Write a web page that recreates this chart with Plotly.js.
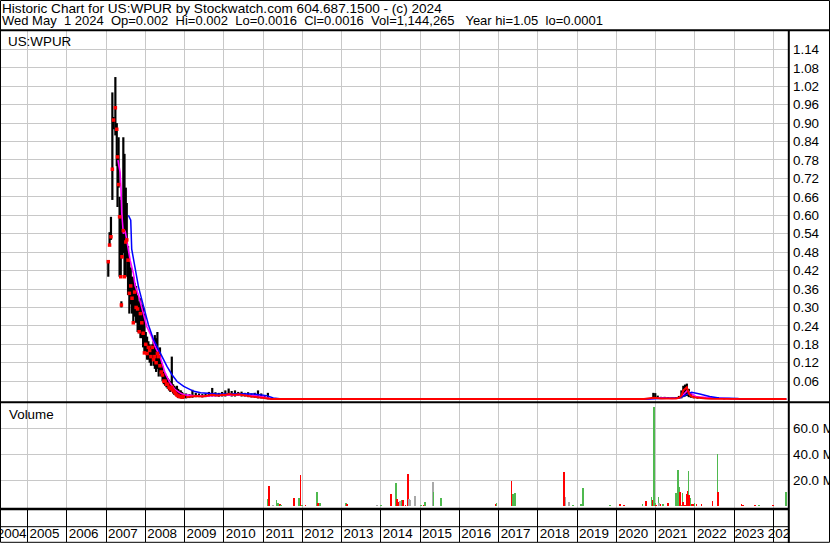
<!DOCTYPE html>
<html><head><meta charset="utf-8">
<script src="https://cdn.plot.ly/plotly-3.0.1.min.js"></script>
<style>html,body{margin:0;padding:0;background:#fff;overflow:hidden}#chart{width:830px;height:543px}</style>
</head><body><div id="chart"></div>
<script>
// ---------------- texts ----------------
const titleLine1 = "Historic Chart for US:WPUR by Stockwatch.com 604.687.1500 - (c) 2024";
const titleLine2 = "Wed May  1 2024  Op=0.002  Hi=0.002  Lo=0.0016  Cl=0.0016  Vol=1,144,265   Year hi=1.05  lo=0.0001";
const symbolLabel = "US:WPUR";
const volumeLabel = "Volume";

// ---------------- price bars (date, high, low, close) ----------------
const priceDates = [
 '2007-01-22','2007-02-03','2007-02-16','2007-03-01','2007-03-12','2007-03-29','2007-04-11','2007-04-18','2007-04-28','2007-05-07',
 '2007-05-18','2007-05-24','2007-05-30','2007-06-11','2007-06-22','2007-07-04','2007-07-13','2007-07-25','2007-08-06','2007-08-19',
 '2007-08-31','2007-09-12','2007-09-24','2007-10-08','2007-10-22','2007-11-05','2007-11-17','2007-11-30','2007-12-12','2007-12-24',
 '2008-01-06','2008-01-18','2008-01-30','2008-02-11','2008-02-23','2008-03-06','2008-03-18','2008-03-30','2008-04-11','2008-04-23',
 '2008-05-05','2008-05-17','2008-05-29','2008-06-10','2008-06-22','2008-07-04','2008-07-16','2008-07-28','2008-08-09','2008-08-21',
 '2008-09-04','2008-09-16','2008-09-28','2008-10-10','2008-10-22','2008-11-03','2008-11-15','2008-11-27','2008-12-09','2008-12-21',
 '2009-01-15','2009-02-15','2009-03-15','2009-04-15','2009-05-15','2009-06-15','2009-07-15','2009-08-15','2009-09-15','2009-10-15','2009-11-15','2009-12-15',
 '2010-01-15','2010-02-15','2010-03-15','2010-04-15','2010-05-15','2010-06-15','2010-07-15','2010-08-15','2010-09-15','2010-10-15','2010-11-15','2010-12-15',
 '2011-01-15','2011-02-15','2011-03-15',
 '2011-06-15','2011-10-15','2012-04-15','2012-10-15','2013-04-15','2013-10-15','2014-04-15','2014-10-15','2015-04-15','2015-10-15',
 '2016-04-15','2016-10-15','2017-04-15','2017-10-15','2018-04-15','2018-10-15','2019-04-15','2019-10-15','2020-04-15','2020-09-15',
 '2020-12-10','2020-12-28','2021-01-20','2021-02-20','2021-03-25','2021-04-25','2021-06-01','2021-07-10','2021-08-05','2021-08-28',
 '2021-09-15','2021-10-01','2021-10-18','2021-11-05','2021-11-25','2021-12-20','2022-01-25','2022-03-01','2022-04-15','2022-06-01',
 '2022-08-01','2022-10-01','2022-12-01','2023-03-01','2023-06-01','2023-09-01','2023-12-01','2024-03-01','2024-05-01'
];
const priceHigh = [
 0.449,0.545,0.595,1.000,0.920,1.050,0.900,0.800,0.854,0.660,
 0.650,0.320,0.590,0.854,0.800,0.690,0.640,0.500,0.450,0.430,
 0.400,0.400,0.380,0.370,0.340,0.320,0.330,0.310,0.300,0.280,
 0.220,0.205,0.190,0.180,0.170,0.180,0.190,0.210,0.200,0.220,
 0.160,0.170,0.120,0.110,0.090,0.085,0.076,0.070,0.065,0.060,
 0.140,0.050,0.045,0.040,0.045,0.035,0.030,0.030,0.025,0.020,
 0.020,0.018,0.032,0.022,0.020,0.018,0.020,0.025,0.038,0.024,0.022,0.025,
 0.030,0.036,0.028,0.030,0.025,0.026,0.022,0.024,0.020,0.022,0.030,0.020,
 0.012,0.022,0.005,
 0.004,0.003,0.003,0.003,0.002,0.003,0.004,0.003,0.003,0.002,
 0.002,0.002,0.003,0.002,0.002,0.003,0.002,0.002,0.002,0.003,
 0.022,0.021,0.013,0.009,0.009,0.008,0.006,0.008,0.012,0.030,
 0.045,0.049,0.052,0.035,0.020,0.013,0.010,0.008,0.007,0.006,
 0.008,0.005,0.004,0.003,0.003,0.003,0.003,0.003,0.002
];
const priceLow = [
 0.400,0.500,0.520,0.650,0.880,0.860,0.760,0.627,0.690,0.400,
 0.400,0.300,0.460,0.477,0.400,0.400,0.460,0.340,0.280,0.310,
 0.280,0.249,0.270,0.250,0.220,0.216,0.200,0.200,0.170,0.150,
 0.150,0.130,0.130,0.120,0.110,0.130,0.110,0.100,0.090,0.100,
 0.075,0.090,0.075,0.060,0.050,0.045,0.040,0.035,0.030,0.025,
 0.030,0.020,0.015,0.013,0.010,0.005,0.005,0.004,0.003,0.003,
 0.004,0.005,0.006,0.008,0.008,0.007,0.008,0.010,0.010,0.010,0.009,0.010,
 0.010,0.012,0.010,0.010,0.012,0.010,0.010,0.008,0.007,0.006,0.004,0.004,
 0.002,0.001,0.001,
 0.001,0.001,0.001,0.001,0.001,0.001,0.001,0.001,0.001,0.001,
 0.001,0.001,0.001,0.001,0.001,0.001,0.001,0.001,0.001,0.001,
 0.002,0.003,0.003,0.003,0.002,0.002,0.002,0.002,0.003,0.004,
 0.008,0.010,0.012,0.008,0.006,0.004,0.003,0.003,0.002,0.002,
 0.002,0.001,0.001,0.001,0.001,0.001,0.001,0.001,0.0016
];
const priceClose = [
 0.449,0.503,0.530,0.750,0.910,0.950,0.880,0.790,0.700,0.595,
 0.400,0.308,0.465,0.550,0.400,0.513,0.520,0.454,0.346,0.370,
 0.330,0.250,0.350,0.300,0.295,0.221,0.280,0.250,0.216,0.152,
 0.180,0.150,0.170,0.160,0.140,0.170,0.130,0.140,0.120,0.150,
 0.140,0.110,0.090,0.080,0.060,0.060,0.050,0.050,0.040,0.035,
 0.040,0.030,0.025,0.020,0.015,0.012,0.010,0.010,0.008,0.010,
 0.008,0.010,0.012,0.012,0.011,0.010,0.012,0.015,0.016,0.014,0.013,0.016,
 0.015,0.018,0.016,0.015,0.017,0.016,0.014,0.012,0.010,0.009,0.008,0.006,
 0.004,0.003,0.002,
 0.002,0.002,0.002,0.001,0.001,0.001,0.002,0.001,0.001,0.001,
 0.001,0.001,0.001,0.001,0.001,0.001,0.001,0.001,0.001,0.002,
 0.006,0.005,0.005,0.004,0.004,0.004,0.003,0.004,0.006,0.012,
 0.030,0.035,0.040,0.020,0.012,0.008,0.006,0.005,0.004,0.003,
 0.003,0.003,0.002,0.002,0.002,0.002,0.002,0.002,0.0016
];

// ---------------- moving averages ----------------
const maFastDates = [
 '2007-04-22','2007-05-12','2007-05-20','2007-05-21','2007-05-27','2007-06-11','2007-06-27','2007-07-13','2007-07-28','2007-08-13',
 '2007-09-13','2007-09-29','2007-10-30','2007-11-15','2007-12-16','2008-01-15','2008-03-01','2008-04-01','2008-05-18','2008-07-04',
 '2008-08-19','2008-10-05','2008-11-20','2008-12-24','2009-03-19','2009-05-20','2009-07-21','2009-09-20','2009-11-21','2010-01-30',
 '2010-04-01','2010-06-02','2010-08-03','2010-10-04','2010-12-05','2011-02-04','2011-04-06','2012-01-01','2014-01-01','2016-01-01',
 '2018-01-01','2020-01-01','2020-11-01','2020-12-20','2021-03-01','2021-06-01','2021-08-15','2021-09-15','2021-10-23','2021-11-17',
 '2022-01-17','2022-07-01','2023-02-04','2024-05-01'
];
const maFast = [
 0.780,0.740,0.690,0.650,0.610,0.540,0.550,0.520,0.480,0.454,
 0.410,0.370,0.340,0.320,0.280,0.238,0.205,0.173,0.140,0.086,
 0.054,0.032,0.022,0.016,0.013,0.011,0.011,0.013,0.014,0.016,
 0.017,0.016,0.015,0.013,0.011,0.006,0.002,0.002,0.002,0.001,
 0.001,0.001,0.002,0.004,0.006,0.004,0.005,0.016,0.030,0.022,
 0.009,0.005,0.002,0.002
];
const maSlowDates = [
 '2007-07-28','2007-08-19','2007-08-28','2007-09-29','2007-10-30','2007-12-01','2007-12-31','2008-01-31','2008-03-18','2008-05-04',
 '2008-06-05','2008-07-21','2008-09-06','2008-10-23','2008-12-24','2009-03-28','2009-05-30','2009-11-02','2010-06-02','2010-10-04',
 '2011-02-04','2011-04-06','2011-06-06','2013-01-01','2016-01-01','2019-01-01','2020-10-01','2021-06-15','2021-08-15','2021-10-14',
 '2021-12-01','2022-02-15','2022-05-18','2022-08-13','2023-02-07','2023-02-22','2024-05-01'
];
const maSlow = [
 0.600,0.584,0.490,0.420,0.367,0.324,0.280,0.243,0.195,0.162,
 0.140,0.108,0.081,0.059,0.043,0.027,0.022,0.018,0.019,0.018,
 0.013,0.005,0.003,0.003,0.002,0.002,0.002,0.005,0.006,0.016,
 0.024,0.018,0.010,0.005,0.004,0.001,0.001
];

// ---------------- volume (millions of shares) ----------------
const volDates = [
 '2010-01-15','2011-02-17','2011-02-27','2011-03-12','2011-04-05','2011-05-07','2011-05-21','2011-06-05','2011-06-20','2011-07-05',
 '2011-07-29','2011-09-07','2011-09-23','2011-10-17','2011-12-02','2011-12-15','2011-12-27','2012-02-01','2012-05-14','2012-05-26',
 '2012-06-14','2012-06-23','2012-07-30','2012-09-14','2012-09-30','2012-12-17','2013-01-03','2013-02-08','2013-02-17','2013-04-06',
 '2013-04-26','2013-08-28','2013-11-17','2013-11-29','2014-01-02','2014-01-17','2014-02-18','2014-04-05','2014-04-23','2014-05-21',
 '2014-05-30','2014-06-11','2014-06-30','2014-07-15','2014-07-25','2014-08-18','2014-09-12','2014-09-19','2014-10-01','2014-10-13',
 '2014-11-14','2014-11-27','2015-01-09','2015-02-02','2015-02-17','2015-03-25','2015-04-06','2015-05-01','2015-05-06','2015-06-10',
 '2015-07-01','2015-07-14','2015-09-20','2015-12-04','2016-03-02','2016-04-08','2016-05-24','2016-12-05','2016-12-12','2017-04-15',
 '2017-05-01','2017-05-10','2017-05-16','2017-06-01','2017-06-17','2017-07-11','2017-12-26','2018-02-05','2018-03-23','2018-08-09',
 '2018-08-31','2018-09-16','2018-10-16','2018-11-01','2018-11-21','2019-01-19','2019-02-03','2019-02-22','2019-02-28','2019-03-15',
 '2019-04-19','2019-05-17','2019-06-02','2019-06-17','2019-07-09','2019-09-19','2019-10-04','2019-11-04','2019-11-10','2020-02-01',
 '2020-03-09','2020-03-28','2020-05-20','2020-08-12','2020-08-30','2020-09-11','2020-10-06','2020-10-22','2020-11-22','2020-12-07',
 '2020-12-14','2020-12-26','2021-01-01','2021-01-08','2021-01-27','2021-02-02','2021-02-15','2021-03-11','2021-03-29','2021-04-11',
 '2021-04-23','2021-05-12','2021-07-07','2021-07-20','2021-07-30','2021-08-06','2021-08-12','2021-08-24','2021-08-30','2021-09-07',
 '2021-09-12','2021-09-29','2021-10-14','2021-10-23','2021-11-02','2021-11-08','2021-11-20','2021-12-02','2021-12-15','2021-12-29',
 '2022-01-15','2022-01-30','2022-02-15','2022-03-03','2022-03-18','2022-04-02','2022-05-18','2022-06-13','2022-07-04','2022-07-29',
 '2022-08-07','2022-08-26','2022-09-26','2022-11-05','2022-11-21','2022-12-22','2023-03-11','2023-03-26','2023-06-03','2023-06-22',
 '2023-07-16','2023-08-17','2023-12-16','2023-12-31','2024-02-01','2024-03-03','2024-03-19','2024-04-27','2024-04-30'
];
const volMillions = [
 0.6,5.4,15.6,0.5,1.0,4.8,2.3,1.5,1.0,0.4,
 0.3,0.3,0.3,6.4,6.1,24.1,1.0,1.0,11.0,2.5,
 2.5,0.5,0.3,0.3,0.2,0.5,0.3,2.5,2.0,0.2,
 0.5,0.2,0.2,0.8,1.0,0.2,0.2,9.5,0.5,17.9,
 5.6,3.0,4.0,4.8,4.8,1.0,24.8,5.6,4.8,0.3,
 7.9,0.3,1.0,1.0,3.3,0.5,0.5,18.7,11.0,0.2,
 0.2,6.4,0.2,0.2,0.2,0.5,0.2,1.5,2.5,0.3,
 19.5,1.5,9.5,10.2,0.3,0.3,0.5,0.2,0.5,0.5,
 26.4,7.2,3.3,0.2,1.0,0.2,1.9,14.1,0.2,0.2,
 0.5,0.2,0.2,0.2,0.2,0.2,0.2,1.0,0.2,1.9,
 1.0,0.5,0.2,0.5,1.9,0.2,4.1,0.2,7.2,4.8,
 76.4,2.5,1.0,0.5,7.2,2.5,1.5,1.9,0.5,0.5,
 2.5,0.2,10.2,0.2,27.9,14.8,11.0,1.0,1.0,10.2,
 3.3,1.0,9.2,11.5,27.1,8.5,6.4,1.5,2.0,2.5,
 1.9,0.5,0.5,1.9,0.5,0.5,0.2,4.1,0.2,40.0,
 11.0,0.2,0.5,0.2,0.2,0.5,1.9,1.0,0.2,0.2,
 1.0,1.0,0.5,1.0,0.2,0.5,0.2,11.0,0.2
];
const volDir = [
 'up','up','down','down','flat','up','up','down','up','down',
 'up','flat','down','down','up','down','up','down','up','down',
 'up','flat','flat','flat','down','up','flat','up','down','down',
 'up','flat','down','flat','up','down','flat','down','up','up',
 'down','down','flat','up','down','down','down','flat','flat','down',
 'flat','up','up','down','up','down','flat','flat','up','flat',
 'down','up','flat','flat','flat','up','flat','down','up','up',
 'down','flat','up','up','down','up','flat','up','down','flat',
 'down','flat','flat','down','up','up','up','up','down','up',
 'up','flat','down','up','flat','up','flat','up','down','down',
 'down','down','flat','up','up','down','down','up','up','down',
 'up','up','down','down','up','flat','down','up','down','down',
 'down','up','up','down','up','up','down','down','up','up',
 'down','down','down','down','up','down','up','down','down','up',
 'down','down','up','down','down','up','down','down','flat','up',
 'down','down','up','down','down','up','down','down','down','up',
 'down','up','down','down','up','up','up','up','down'
];

// ---------------- axis ticks ----------------
const priceTicks = [0.06,0.12,0.18,0.24,0.30,0.36,0.42,0.48,0.54,0.60,0.66,0.72,0.78,0.84,0.90,0.96,1.02,1.08,1.14];
const volTicks = [20,40,60];
const volTickText = ['20.0 M','40.0 M','60.0 M'];
const yearLabels = ['2004','2005','2006','2007','2008','2009','2010','2011','2012','2013','2014',
                    '2015','2016','2017','2018','2019','2020','2021','2022','2023','2024'];
const yearLabelDates = ['2004-08-06','2005-06-07','2006-06-07','2007-06-07','2008-06-06','2009-06-07','2010-06-07',
 '2011-06-07','2012-06-06','2013-06-07','2014-06-07','2015-06-07','2016-06-06','2017-06-07','2018-06-07',
 '2019-06-07','2020-06-06','2021-06-07','2022-06-07','2023-05-22','2024-03-28'];
const yearStarts = yearLabels.slice(1).map(y => y + '-01-01');

// ---------------- layout geometry (pixels) ----------------
const W = 830, H = 543, PL = 0, PR = 788, PT = 31, PB = 509;
const px = x => (x - PL) / (PR - PL);
const py = y => (PB - y) / (PB - PT);
const FONT = 'Liberation Sans, Arial, Helvetica, sans-serif';
const FS = 13.4;

// ---------------- traces ----------------
const hlX = [], hlY = [];
priceDates.forEach((d, i) => { hlX.push(d, d, null); hlY.push(priceLow[i], priceHigh[i], null); });

const splitIdx = priceDates.findIndex(d => d >= '2009-01-01');
const dirColor = {up: '#4fb94f', down: '#ff0000', flat: '#a9a9a9'};
const DAY = 86400000;

const traces = [
  {type:'scatter', mode:'lines', x: hlX, y: hlY, xaxis:'x', yaxis:'y',
   line:{color:'#000000', width:2.2}, hoverinfo:'skip', connectgaps:false},
  {type:'scatter', mode:'lines', x: maFastDates, y: maFast, xaxis:'x', yaxis:'y',
   line:{color:'#ff00ff', width:1.6}, hoverinfo:'skip'},
  {type:'scatter', mode:'lines', x: maSlowDates, y: maSlow, xaxis:'x', yaxis:'y',
   line:{color:'#0000ff', width:1.5}, hoverinfo:'skip'},
  {type:'scatter', mode:'markers', x: priceDates.slice(0, splitIdx), y: priceClose.slice(0, splitIdx),
   xaxis:'x', yaxis:'y', marker:{symbol:'square', size:3.5, color:'#ff0000', line:{width:0}}, hoverinfo:'skip'},
  {type:'scatter', mode:'lines', x: priceDates.slice(splitIdx), y: priceClose.slice(splitIdx),
   xaxis:'x', yaxis:'y', line:{color:'#ff0000', width:2}, hoverinfo:'skip'},
  {type:'bar', x: volDates, y: volMillions, xaxis:'x', yaxis:'y2',
   width: volDates.map(() => 16 * DAY),
   marker:{color: volDir.map(d => dirColor[d]), line:{width:0}}, hoverinfo:'skip'}
];

const nb = s => s.replace(/ {2,}/g, m => ' ' + '\u00a0'.repeat(m.length - 1));

const black = '#000000';
const line = (x0, y0, x1, y1, w) => ({type:'line', xref:'paper', yref:'paper', layer:'above',
  x0: px(x0), y0: py(y0), x1: px(x1), y1: py(y1), line:{color: black, width: w}});
const tf = {family: FONT, size: FS, color: '#000'};

const layout = {
  width: W, height: H,
  margin: {l: PL, r: W - PR, t: PT, b: H - PB, pad: 0},
  paper_bgcolor: '#ffffff', plot_bgcolor: '#ffffff',
  showlegend: false, bargap: 0, barmode: 'overlay',
  font: tf,
  xaxis: {
    type: 'date', range: ['2004-04-19 14:00', '2024-05-16'], anchor: 'y2',
    tickmode: 'array', tickvals: yearLabelDates, ticktext: yearLabels,
    ticks: '', showgrid: false, zeroline: false, showline: false,
    tickfont: tf, ticklabelstandoff: 15, ticklabeloverflow: 'allow',
    minor: {tickmode: 'array', tickvals: yearStarts, ticks: 'outside', ticklen: 32, tickwidth: 1,
            tickcolor: '#000', showgrid: true, gridcolor: '#c8c8c8', gridwidth: 1},
    fixedrange: true
  },
  yaxis: {
    domain: [py(402), 1], range: [-0.0078, 1.1999], side: 'right', anchor: 'x',
    tickmode: 'array', tickvals: priceTicks, ticktext: priceTicks.map(v => v.toFixed(2)),
    ticks: '', showgrid: true, gridcolor: '#c8c8c8', gridwidth: 1, zeroline: false, showline: false,
    tickfont: tf, ticklabelstandoff: 4, fixedrange: true
  },
  yaxis2: {
    domain: [0, py(403)], range: [-2.08, 79.46], side: 'right', anchor: 'x',
    tickmode: 'array', tickvals: volTicks, ticktext: volTickText,
    ticks: '', showgrid: true, gridcolor: '#c8c8c8', gridwidth: 1, zeroline: false, showline: false,
    tickfont: tf, ticklabelstandoff: 4, ticklabeloverflow: 'allow', fixedrange: true
  },
  annotations: [
    {xref:'paper', yref:'paper', x: px(1), y: py(8), xanchor:'left', yanchor:'middle', showarrow:false,
     text: nb(titleLine1), font: {family: FONT, size: 13.6, color: '#000'}, borderpad: 0},
    {xref:'paper', yref:'paper', x: px(1), y: py(20.5), xanchor:'left', yanchor:'middle', showarrow:false,
     text: nb(titleLine2), font: {family: FONT, size: 13.0, color: '#000'}, borderpad: 0},
    {xref:'paper', yref:'paper', x: px(6), y: py(41.5), xanchor:'left', yanchor:'middle', showarrow:false,
     text: symbolLabel, font: tf},
    {xref:'paper', yref:'paper', x: px(7), y: py(414), xanchor:'left', yanchor:'middle', showarrow:false,
     text: volumeLabel, font: tf}
  ],
  shapes: [
    {type:'rect', xref:'paper', yref:'paper', layer:'above', x0: px(790), x1: px(828.5), y0: py(527.5), y1: py(541),
     fillcolor:'#ffffff', line:{width:0}},
    line(0, 30.3, 830, 30.3, 2),
    line(0, 402.2, 830, 402.2, 2),
    line(0, 509, 789, 509, 2.5),
    line(0, 526.7, 789, 526.7, 1),
    line(788.8, 30, 788.8, 543, 2),
    {type:'rect', xref:'paper', yref:'paper', layer:'above', x0: px(0.5), x1: px(829.5), y0: py(0.5), y1: py(542.3),
     line:{color: black, width: 1}, fillcolor:'rgba(0,0,0,0)'}
  ]
};

Plotly.newPlot('chart', traces, layout, {staticPlot: true, displayModeBar: false});
</script>
</body></html>
